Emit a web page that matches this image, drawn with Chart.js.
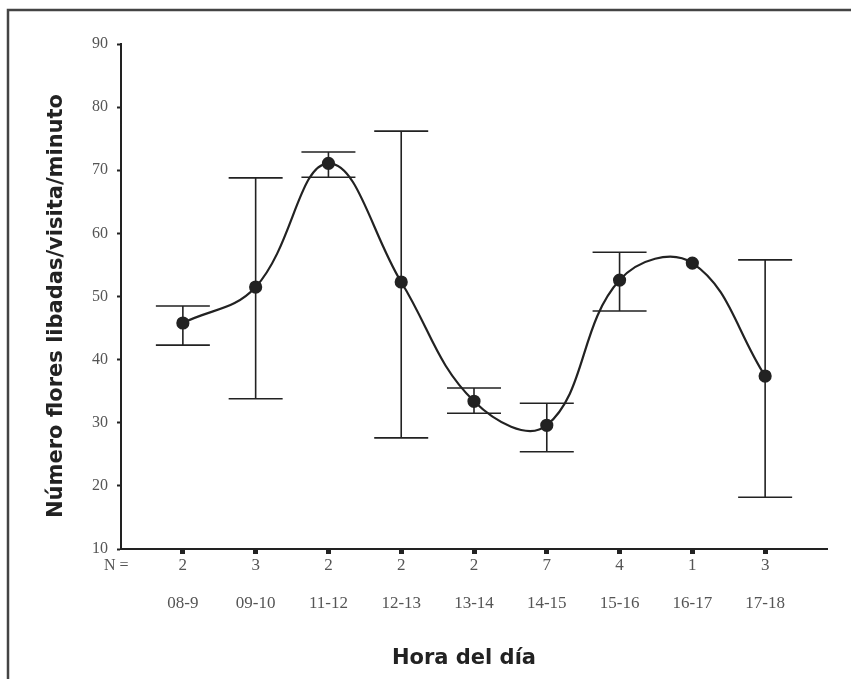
<!DOCTYPE html>
<html>
<head>
<meta charset="utf-8">
<script src="https://cdn.jsdelivr.net/npm/chart.js@4"></script>
<style>
  body { margin: 0; background: #fff; }
  canvas { display: block; }
</style>
</head>
<body>
<canvas id="visitas" width="851" height="679"></canvas>
<script>
const categories = ['08-9', '09-10', '11-12', '12-13', '13-14', '14-15', '15-16', '16-17', '17-18']
const nValues = ['2', '3', '2', '2', '2', '7', '4', '1', '3']
const means = [45.8, 51.5, 71.1, 52.3, 33.4, 29.6, 52.6, 55.3, 37.4]
const upper = [48.5, 68.8, 72.9, 76.2, 35.5, 33.1, 57.0, null, 55.8]
const lower = [42.3, 33.8, 68.9, 27.6, 31.5, 25.4, 47.7, null, 18.2]

const ink = '#222'
const serif = '"Liberation Serif", "Times New Roman", serif'
const sans = '"DejaVu Sans", Verdana, sans-serif'

// error bars, N row, titles and the frame round the figure
const extras = {
  id: 'extras',
  beforeDatasetsDraw(chart) {
    const { ctx, scales: { x, y } } = chart
    ctx.save()
    ctx.strokeStyle = ink
    ctx.lineWidth = 1.6
    categories.forEach((c, i) => {
      if (upper[i] == null) return
      const px = x.getPixelForValue(i)
      const top = y.getPixelForValue(upper[i])
      const bot = y.getPixelForValue(lower[i])
      ctx.beginPath()
      ctx.moveTo(px, top)
      ctx.lineTo(px, bot)
      ctx.moveTo(px - 27, top)
      ctx.lineTo(px + 27, top)
      ctx.moveTo(px - 27, bot)
      ctx.lineTo(px + 27, bot)
      ctx.stroke()
    })
    ctx.restore()
  },
  afterDraw(chart) {
    const { ctx } = chart
    ctx.save()
    // frame
    ctx.strokeStyle = '#444'
    ctx.lineWidth = 2.5
    ctx.beginPath()
    ctx.moveTo(8, 679)
    ctx.lineTo(8, 10)
    ctx.lineTo(851, 10)
    ctx.stroke()

    ctx.fillStyle = '#555'
    ctx.font = '16px ' + serif
    ctx.textAlign = 'left'
    ctx.textBaseline = 'middle'
    ctx.fillText('N =', 104, 566)

    ctx.fillStyle = ink
    ctx.font = 'bold 21px ' + sans
    ctx.textAlign = 'center'
    ctx.textBaseline = 'alphabetic'
    ctx.fillText('Hora del día', 464, 664)

    ctx.translate(62, 306)
    ctx.rotate(-Math.PI / 2)
    ctx.fillText('Número flores libadas/visita/minuto', 0, 0)
    ctx.restore()
  }
}

new Chart(document.getElementById('visitas'), {
  type: 'line',
  data: {
    datasets: [{
      data: means.map((v, i) => ({ x: i, y: v })),
      borderColor: ink,
      borderWidth: 2.2,
      tension: 0.4,
      pointRadius: 5.5,
      pointBackgroundColor: ink,
      pointBorderColor: ink
    }]
  },
  options: {
    responsive: false,
    animation: false,
    devicePixelRatio: 1,
    layout: { padding: { left: 8, top: 44, right: 24, bottom: 0 } },
    plugins: { legend: { display: false }, tooltip: { enabled: false } },
    scales: {
      x: {
        type: 'linear',
        min: -0.85,
        max: 8.85,
        afterBuildTicks: s => { s.ticks = categories.map((c, i) => ({ value: i })) },
        afterFit: s => { s.height = 130 },
        border: { color: ink, width: 2 },
        grid: { drawOnChartArea: false, tickLength: 5, tickWidth: 5, tickColor: ink },
        ticks: {
          padding: -7,
          maxRotation: 0,
          autoSkip: false,
          color: '#555',
          font: { family: serif, size: 17, lineHeight: 38 / 17 },
          callback: v => [nValues[v], categories[v]]
        }
      },
      y: {
        min: 10,
        max: 90,
        afterFit: s => { s.width = 113 },
        border: { color: ink, width: 2 },
        grid: { drawOnChartArea: false, tickLength: 4, tickWidth: 2, tickColor: ink },
        ticks: {
          stepSize: 10,
          padding: 9,
          color: '#555',
          font: { family: serif, size: 16 }
        }
      }
    }
  },
  plugins: [extras]
})
</script>
</body>
</html>
